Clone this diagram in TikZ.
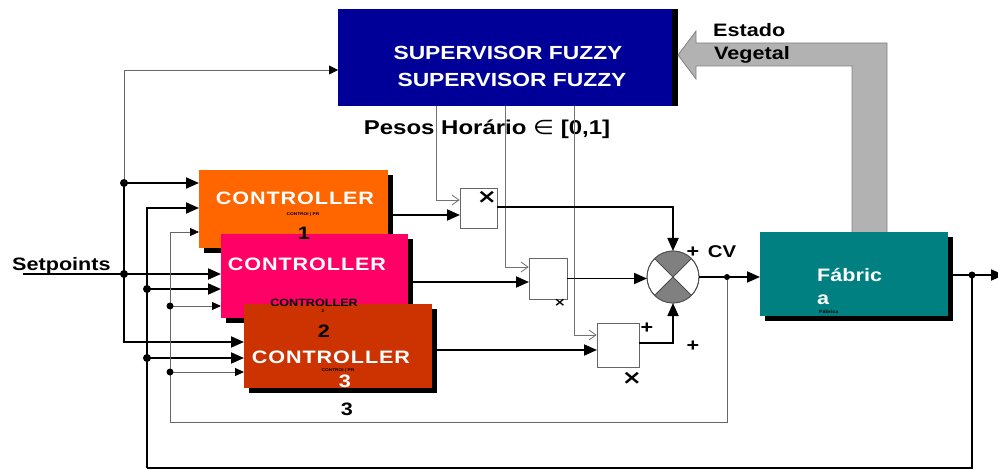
\documentclass[tikz,border=0pt]{standalone}
\usepackage{fontspec}
\setmainfont{Liberation Sans}[FakeStretch=1.2]
\newfontfamily\symfont{DejaVu Sans}[FakeStretch=1.2]
\usepackage{tikz}
\usetikzlibrary{arrows.meta, shadows}
\definecolor{supcolor}{RGB}{0,0,153}
\definecolor{ctrlone}{RGB}{255,102,0}
\definecolor{ctrltwo}{RGB}{255,0,102}
\definecolor{ctrlthree}{RGB}{204,51,0}
\definecolor{fabcolor}{RGB}{0,128,128}
\definecolor{bandgray}{RGB}{178,178,178}
\definecolor{sumgray}{RGB}{128,128,128}

\begin{document}
\begin{tikzpicture}[x=1pt, y=-1pt,
    >={Triangle[length=13pt, width=11pt]},
    box/.style={inner sep=0pt, outer sep=0pt, anchor=north west},
    ctrlbox/.style={box, general shadow={fill=black, shadow xshift=5pt, shadow yshift=-5pt}},
    txt/.style={inner sep=0pt, anchor=base, font=\fontsize{#1}{#1}\selectfont\bfseries},
    txt/.default=18,
    ctrltxt/.style={txt, white, font=\fontsize{18}{18}\selectfont\bfseries\addfontfeature{LetterSpace=5}},
    mark/.style={inner sep=0pt, font=\fontsize{#1}{#1}\selectfont\bfseries},
    mark/.default=18,
    wire/.style={line width=1.8pt},
    thinwire/.style={line width=0.8pt, draw=black!60},
    smalltip/.style={-{Triangle[length=9pt, width=8pt, color=black]}},
    weight/.style={line width=0.8pt, draw=black!55, -{Straight Barb[length=7pt, width=10pt]}},
    mult/.style={draw=black!60, line width=0.7pt, fill=white, inner sep=0pt},
]
    \useasboundingbox (0,0) rectangle (998,470);

    % supervisor and feedback band
    \node[box, fill=supcolor, minimum width=334pt, minimum height=97pt,
          general shadow={fill=black, shadow xshift=6pt}] (sup) at (338,9) {};
    \draw[fill=bandgray, draw=black!50, line width=0.8pt]
        (852,232) -- (852,66) -- (696,66) -- (696,79) -- (678,55)
        -- (696,31) -- (696,43) -- (887,43) -- (887,232);

    % controllers
    \node[ctrlbox, fill=ctrlone, minimum width=189pt, minimum height=78pt] (c1) at (199,170) {};
    \node[ctrlbox, fill=ctrltwo, minimum width=187pt, minimum height=84pt] (c2) at (221,234) {};
    \node[ctrlbox, fill=ctrlthree, minimum width=188pt, minimum height=84pt] (c3) at (244,304) {};
    \node[ctrlbox, fill=fabcolor, minimum width=188pt, minimum height=84pt] (fab) at (760,232) {};

    % multipliers and sum
    \node[mult, minimum width=37pt, minimum height=40pt] (m1) at (478.5,208) {};
    \node[mult, minimum width=38pt, minimum height=41pt] (m2) at (548,278.5) {};
    \node[mult, minimum width=42pt, minimum height=44pt] (m3) at (618,345) {};
    \node[circle, draw=black!70, fill=white, line width=0.8pt, minimum size=52pt,
          inner sep=0pt, outer sep=0pt] (sum) at (673,277) {};
    \fill[sumgray] (sum.center) -- (sum.north east) arc[start angle=45, end angle=135, radius=26pt] -- cycle;
    \fill[sumgray] (sum.center) -- (sum.south west) arc[start angle=225, end angle=315, radius=26pt] -- cycle;
    \draw[black!70, line width=0.8pt] (sum.north west) -- (sum.south east)
        (sum.north east) -- (sum.south west) (sum.center) circle[radius=26pt];

    % labels
    \node[txt=19, white] (st1) at (508,60) {SUPERVISOR FUZZY};
    \node[txt=19, white] (st2) at (512,87) {SUPERVISOR FUZZY};
    \node[txt=20] (pesos) at (487,135) {Pesos Horário {\symfont\mdseries ∈} [0,1]};
    \node[txt, anchor=base west] (est) at (713,37) {Estado};
    \node[txt, anchor=base west] (veg) at (714,60) {Vegetal};
    \node[txt, anchor=base west] (spt) at (12,270) {Setpoints};

    \node[ctrltxt] (c1t) at (295,205) {CONTROLLER};
    \node[txt=4] (c1s) at (303,216) {CONTROI | PR};
    \node[txt] (c1n) at (304,240) {1};
    \node[ctrltxt] (c2t) at (307,271) {CONTROLLER};
    \node[txt=10.5] (c2s) at (314,306) {CONTROLLER};
    \node[txt=4] (c2r) at (323,312) {2};
    \node[txt] (c2n) at (324,337) {2};
    \node[ctrltxt] (c3t) at (331,363) {CONTROLLER};
    \node[txt=4] (c3s) at (338,371) {CONTROI | PR};
    \node[txt, white] (c3n) at (345,387) {3};
    \node[txt] (c3m) at (347,415) {3};
    \node[txt, white, anchor=base west] (fab1) at (817,282) {Fábric};
    \node[txt, white, anchor=base west] (fab2) at (817,305) {a};
    \node[txt=4.5, anchor=base west] (fab3) at (819,313) {Fábrica};

    \node[mark=20] (x1) at (487,197) {\symfont ×};
    \node[mark=12] (x2) at (560,303) {\symfont ×};
    \node[mark=20] (x3) at (632,378) {\symfont ×};
    \node[mark] (p3) at (647,328) {+};
    \node[mark] (ptop) at (693,252) {+};
    \node[mark=17] (cv) at (722,252) {CV};
    \node[mark] (pbot) at (693,346) {+};

    % junctions
    \coordinate (sp) at (23,274);
    \coordinate (ja) at (124,183);
    \coordinate (jb) at (124,274);
    \coordinate (ka) at (124,342);
    \coordinate (kt) at (124,70);
    \coordinate (kb) at (147,208);
    \coordinate (jc) at (147,289);
    \coordinate (jd) at (147,358);
    \coordinate (kbb) at (147,468);
    \coordinate (kc) at (170,232);
    \coordinate (je) at (170,306);
    \coordinate (jf) at (170,372);
    \coordinate (kcc) at (170,422);
    \coordinate (cvdot) at (727,277);
    \coordinate (outdot) at (972,275);
    \coordinate (out) at (1004,275);
    \coordinate (i1) at (460,215);
    \coordinate (i2) at (529,282);
    \coordinate (i3) at (597,350);
    \coordinate (w1) at (436,200);
    \coordinate (w2) at (505,267);
    \coordinate (w3) at (574,335);
    \coordinate (o1) at (497,207);
    \coordinate (o3) at (639,343);

    % setpoints and plant output into controllers
    \draw[wire, ->] (sp) -- (sp -| c2.west);
    \draw[wire, ->] (ja) -- (ja -| c1.west);
    \draw[wire, ->] (ja) |- (ka -| c3.west);
    \draw[wire, ->] (kbb) -- (kb) -- (kb -| c1.west);
    \draw[wire, ->] (jc) -- (jc -| c2.west);
    \draw[wire, ->] (jd) -- (jd -| c3.west);
    \draw[wire] (outdot) |- (kbb);
    \draw[wire, ->] (fab.east |- outdot) -- (out);

    % CV feedback
    \draw[thinwire, smalltip] (cvdot) |- (kcc) -- (kc) -- (kc -| c1.west);
    \draw[thinwire, smalltip] (je) -- (je -| c2.west);
    \draw[thinwire, smalltip] (jf) -- (jf -| c3.west);
    \draw[thinwire, -{Triangle[length=9pt, width=9pt, color=black]}] (ja) -- (kt) -- (kt -| sup.west);

    % weights
    \draw[weight] (w1 |- sup.south) -- (w1) -- (w1 -| m1.west);
    \draw[weight] (w2 |- sup.south) -- (w2) -- (w2 -| m2.west);
    \draw[weight] (w3 |- sup.south) -- (w3) -- (w3 -| m3.west);

    % controllers -> multipliers -> sum -> plant
    \draw[wire, ->] (c1.east |- i1) -- (i1);
    \draw[wire, ->] (c2.east |- i2) -- (i2);
    \draw[wire, ->] (c3.east |- i3) -- (i3);
    \draw[wire, ->] (o1) -| (sum.north);
    \draw[wire, ->] (m2.east) -- (sum.west |- m2.east);
    \draw[wire, ->] (o3) -| (sum.south);
    \draw[wire, ->] (sum.east) -- (fab.west |- sum.east);

    \fill (ja) circle[radius=4pt] (jb) circle[radius=4pt] (jc) circle[radius=4pt]
        (jd) circle[radius=4pt] (je) circle[radius=3.5pt] (jf) circle[radius=3.5pt]
        (cvdot) circle[radius=3pt] (outdot) circle[radius=3.5pt];
\end{tikzpicture}
\end{document}
